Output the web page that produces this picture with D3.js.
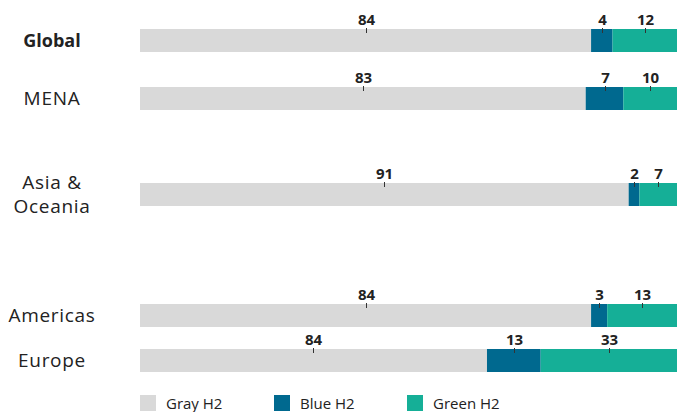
<!DOCTYPE html>
<html>
<head>
<meta charset="utf-8">
<script src="https://cdn.jsdelivr.net/npm/d3@7"></script>
<style>
  body { margin: 0; background: #fff; }
  text { font-family: "Open Sans", sans-serif; fill: #222; }
</style>
</head>
<body>
<div id="chart"></div>
<script>
// data
var regions = ["Global", "MENA", "Asia & Oceania", "Americas", "Europe"];
var grayH2 = [84, 83, 91, 84, 84];
var blueH2 = [4, 7, 2, 3, 13];
var greenH2 = [12, 10, 7, 13, 33];
var seriesNames = ["Gray H2", "Blue H2", "Green H2"];
var seriesColors = ["#d9d9d9", "#00698f", "#15af97"];

var width = 678, height = 412;

var svg = d3.select("#chart")
  .append("svg")
  .attr("width", width)
  .attr("height", height);

var rows = regions.map(function (r, i) {
  return { region: r, gray: grayH2[i], blue: blueH2[i], green: greenH2[i] };
});

var keys = ["gray", "blue", "green"];
var stacked = d3.stack().keys(keys).offset(d3.stackOffsetExpand)(rows);

var x = d3.scaleLinear().domain([0, 1]).range([140, 677]);

// rows are not evenly spaced in the original
var y = d3.scaleOrdinal().domain(regions).range([29, 87, 183, 304, 349]);
var barH = 23;

var color = d3.scaleOrdinal().domain(keys).range(seriesColors);

// bars
svg.append("g")
  .selectAll("g")
  .data(stacked)
  .join("g")
  .attr("fill", function (d) { return color(d.key); })
  .selectAll("rect")
  .data(function (d) { return d; })
  .join("rect")
  .attr("x", function (d) { return x(d[0]); })
  .attr("y", function (d) { return y(d.data.region); })
  .attr("width", function (d) { return x(d[1]) - x(d[0]); })
  .attr("height", barH);

// value labels with small ticks
stacked.forEach(function (s) {
  var g = svg.append("g");
  s.forEach(function (d) {
    var cx = Math.round((x(d[0]) + x(d[1])) / 2) + 0.5;
    var top = y(d.data.region);
    g.append("line")
      .attr("x1", cx).attr("x2", cx)
      .attr("y1", top - 1).attr("y2", top + 4)
      .attr("stroke", "#333")
      .attr("stroke-width", 1);
    g.append("text")
      .attr("x", cx)
      .attr("y", top - 4)
      .attr("text-anchor", "middle")
      .style("font-size", "15px")
      .style("font-weight", "bold")
      .text(d.data[s.key]);
  });
});

// region labels (Asia & Oceania wraps onto two lines)
regions.forEach(function (r) {
  var lines = r === "Asia & Oceania" ? ["Asia &", "Oceania"] : [r];
  var mid = y(r) + barH / 2;
  var bold = r === "Global";
  lines.forEach(function (l, i) {
    svg.append("text")
      .attr("x", 52)
      .attr("y", mid + 6 + (i - (lines.length - 1) / 2) * 24)
      .attr("text-anchor", "middle")
      .style("font-size", bold ? "18px" : "19px")
      .style("letter-spacing", bold ? "0px" : "0.7px")
      .style("font-weight", bold ? "bold" : "normal")
      .text(l);
  });
});

// legend
var legendX = [140, 274, 407];
var legend = svg.append("g");
seriesNames.forEach(function (n, i) {
  legend.append("rect")
    .attr("x", legendX[i])
    .attr("y", 395)
    .attr("width", 16)
    .attr("height", 16)
    .attr("fill", seriesColors[i]);
  legend.append("text")
    .attr("x", legendX[i] + 26)
    .attr("y", 409)
    .style("font-size", "15px")
    .text(n);
});
</script>
</body>
</html>
